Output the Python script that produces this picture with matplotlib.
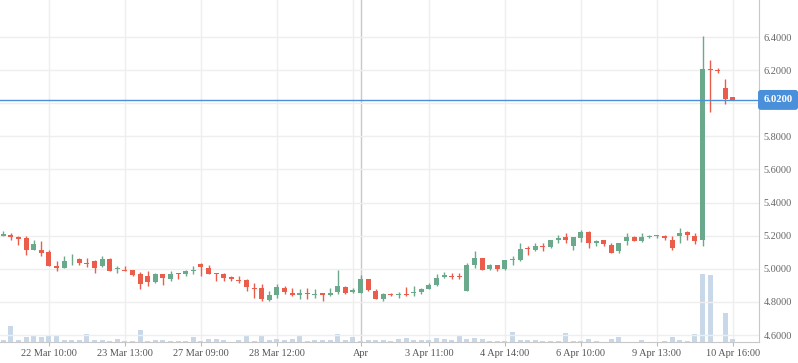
import matplotlib
matplotlib.use("Agg")
import matplotlib.pyplot as plt
import numpy as np

# ---- data ----
opens = [5.200, 5.204, 5.194, 5.186, 5.116, 5.114, 5.102, 5.017, 5.007, 5.051,
         5.059, 5.033, 5.049, 5.019, 5.061, 4.997, 4.993, 4.993, 4.967, 4.956,
         4.920, 4.967, 4.940, 4.971, 4.971, 4.989, 5.029, 5.007, 4.973, 4.967,
         4.952, 4.931, 4.932, 4.882, 4.886, 4.814, 4.844, 4.884, 4.854, 4.842,
         4.856, 4.844, 4.854, 4.842, 4.860, 4.890, 4.860, 4.856, 4.936, 4.866,
         4.818, 4.848, 4.844, 4.848, 4.854, 4.860, 4.878, 4.902, 4.950, 4.957,
         4.955, 4.866, 5.023, 5.065, 5.001, 5.023, 5.001, 5.053, 5.055, 5.124,
         5.114, 5.138, 5.132, 5.176, 5.192, 5.138, 5.188, 5.222, 5.158, 5.174,
         5.144, 5.110, 5.170, 5.190, 5.170, 5.194, 5.198, 5.198, 5.174, 5.198,
         5.222, 5.198, 5.176, 6.207, 6.201, 6.090, 6.038]
highs = [5.228, 5.214, 5.198, 5.198, 5.174, 5.168, 5.114, 5.047, 5.077, 5.089,
         5.067, 5.065, 5.053, 5.077, 5.065, 5.017, 5.017, 4.993, 4.979, 4.987,
         4.973, 4.967, 4.987, 4.975, 4.993, 5.017, 5.035, 5.023, 4.973, 4.973,
         4.959, 4.956, 4.938, 4.916, 4.908, 4.866, 4.908, 4.896, 4.884, 4.878,
         4.884, 4.878, 4.854, 4.884, 4.993, 4.896, 4.884, 4.961, 4.940, 4.878,
         4.854, 4.856, 4.862, 4.890, 4.896, 4.884, 4.912, 4.969, 4.979, 4.975,
         4.975, 5.035, 5.108, 5.065, 5.029, 5.023, 5.053, 5.077, 5.156, 5.138,
         5.156, 5.156, 5.174, 5.204, 5.216, 5.192, 5.234, 5.228, 5.174, 5.174,
         5.156, 5.156, 5.216, 5.198, 5.216, 5.204, 5.204, 5.204, 5.198, 5.246,
         5.228, 5.216, 6.408, 6.261, 6.211, 6.146, 6.038]
lows = [5.200, 5.176, 5.144, 5.083, 5.116, 5.077, 5.019, 4.989, 5.007, 5.023,
        5.025, 5.011, 4.977, 5.013, 4.989, 4.977, 4.989, 4.959, 4.880, 4.898,
        4.916, 4.902, 4.928, 4.940, 4.959, 4.971, 4.959, 4.971, 4.928, 4.928,
        4.928, 4.912, 4.868, 4.826, 4.808, 4.808, 4.826, 4.848, 4.836, 4.820,
        4.820, 4.826, 4.808, 4.836, 4.850, 4.848, 4.854, 4.854, 4.866, 4.818,
        4.808, 4.836, 4.826, 4.836, 4.836, 4.848, 4.878, 4.896, 4.946, 4.936,
        4.940, 4.866, 5.007, 4.995, 4.995, 4.989, 4.995, 5.023, 5.049, 5.083,
        5.108, 5.108, 5.128, 5.158, 5.158, 5.114, 5.164, 5.128, 5.140, 5.140,
        5.098, 5.098, 5.146, 5.170, 5.164, 5.188, 5.188, 5.174, 5.116, 5.156,
        5.174, 5.150, 5.140, 5.949, 6.181, 5.997, 6.020]
closes = [5.210, 5.194, 5.182, 5.116, 5.150, 5.098, 5.019, 5.007, 5.047, 5.055,
          5.037, 5.029, 5.007, 5.061, 4.989, 5.007, 4.989, 4.963, 4.910, 4.922,
          4.967, 4.946, 4.967, 4.967, 4.987, 4.995, 5.011, 4.971, 4.969, 4.946,
          4.940, 4.927, 4.892, 4.878, 4.820, 4.842, 4.890, 4.858, 4.842, 4.854,
          4.850, 4.848, 4.844, 4.854, 4.896, 4.854, 4.872, 4.938, 4.872, 4.818,
          4.848, 4.842, 4.848, 4.842, 4.858, 4.878, 4.902, 4.944, 4.965, 4.953,
          4.951, 5.023, 5.065, 4.995, 5.023, 5.001, 5.053, 5.057, 5.122, 5.118,
          5.138, 5.132, 5.174, 5.188, 5.176, 5.192, 5.222, 5.158, 5.170, 5.152,
          5.098, 5.156, 5.192, 5.170, 5.192, 5.198, 5.202, 5.186, 5.128, 5.216,
          5.204, 5.168, 6.207, 6.203, 6.196, 6.027, 6.020]
volumes = [27, 167, 27, 57, 67, 50, 67, 67, 27, 27,
           27, 87, 27, 27, 17, 37, 17, 17, 127, 17,
           27, 27, 17, 10, 17, 57, 17, 37, 37, 27,
           7, 27, 67, 17, 67, 27, 37, 27, 37, 67,
           17, 27, 27, 27, 87, 27, 57, 17, 27, 27,
           27, 17, 37, 47, 27, 27, 27, 47, 37, 27,
           77, 37, 47, 37, 17, 17, 17, 107, 27, 27,
           27, 17, 17, 17, 97, 17, 17, 37, 17, 7,
           33, 53, 7, 7, 23, 7, 7, 17, 53, 23,
           13, 87, 683, 673, 7, 297, 33]
current_price = 6.02
tick_index = [6, 16, 26, 36, 47, 56, 66, 76, 86, 96]
tick_labels = ["22 Mar 10:00", "23 Mar 13:00", "27 Mar 09:00", "28 Mar 12:00", "Apr",
               "3 Apr 11:00", "4 Apr 14:00", "6 Apr 10:00", "9 Apr 13:00", "10 Apr 16:00"]
grid_index = [6, 16, 26, 36, 46, 56, 66, 76, 86, 96]
month_index = 47
price_ticks = [4.6, 4.8, 5.0, 5.2, 5.4, 5.6, 5.8, 6.0, 6.2, 6.4]

# ---- styling ----
GREEN = "#6aa98b"
RED = "#ec5c4a"
VOL = "#c5d6e8"
GRID = "#eeeeee"
FONT = "Liberation Serif"

o = np.array(opens); h = np.array(highs); l = np.array(lows); c = np.array(closes)
x = np.arange(len(o))
up = c >= o
colors = np.where(up, GREEN, RED)

fig = plt.figure(figsize=(7.98, 3.63), dpi=100)
ax = fig.add_axes([0, 20.7 / 363, 759.3 / 798, 342.3 / 363])
axv = ax.twinx()
axv.set_zorder(0)
ax.set_zorder(1)
ax.patch.set_visible(False)

# volume
axv.bar(x, volumes, width=0.66, color=VOL, alpha=0.95, zorder=1)
axv.set_ylim(0, 3423)
axv.set_yticks([])
for s in axv.spines.values():
    s.set_visible(False)

# grid
for gi in grid_index:
    axv.axvline(gi, color=GRID, lw=1, zorder=0)
axv.axvline(month_index, color="#c8c8c8", lw=1, zorder=0.5)
for pt in price_ticks:
    ax.axhline(pt, color=GRID, lw=1, zorder=0)

# candles
ax.vlines(x, l, h, colors=colors, lw=1, zorder=2)
bottoms = np.minimum(o, c)
heights = np.maximum(np.abs(c - o), 0.005)
ax.bar(x, heights, bottom=bottoms, width=0.66, color=colors, zorder=3)

# current price line
ax.axhline(current_price, color="#4a8fd9", lw=1, zorder=4)

ax.set_xlim(-0.434, 99.47)
ax.set_ylim(4.556, 6.6235)
axv.set_xlim(-0.434, 99.47)

# price tick labels; the one hidden under the current-price box is left blank
ax.yaxis.tick_right()
ax.set_yticks(price_ticks)
ax.set_yticklabels(["" if abs(p - current_price) < 0.05 else f"{p:.4f}" for p in price_ticks])
ax.tick_params(axis="y", length=0, pad=3, labelsize=7.4, labelcolor="#666666")
ax.set_xticks(tick_index)
ax.set_xticklabels(tick_labels)
ax.tick_params(axis="x", length=3, color="#bbbbbb", pad=2, labelsize=7.4, labelcolor="#555555")
for lab in ax.get_xticklabels() + ax.get_yticklabels():
    lab.set_fontfamily(FONT)

for side in ["top", "left"]:
    ax.spines[side].set_visible(False)
ax.spines["right"].set_color("#c8c8c8")
ax.spines["bottom"].set_color("#c8c8c8")
ax.spines["right"].set_visible(True)

# current price label box
ax.annotate(f"{current_price:.4f}", xy=(1.0, current_price), xycoords=("axes fraction", "data"),
            xytext=(3.0, 0), textcoords="offset points", ha="left", va="center",
            fontsize=7.6, fontfamily=FONT, color="white", fontweight="bold",
            bbox=dict(boxstyle="round,pad=0.45,rounding_size=0.2", fc="#4a8fd9", ec="#4a8fd9"),
            annotation_clip=False, zorder=10)

fig.savefig("out.png", dpi=100)
